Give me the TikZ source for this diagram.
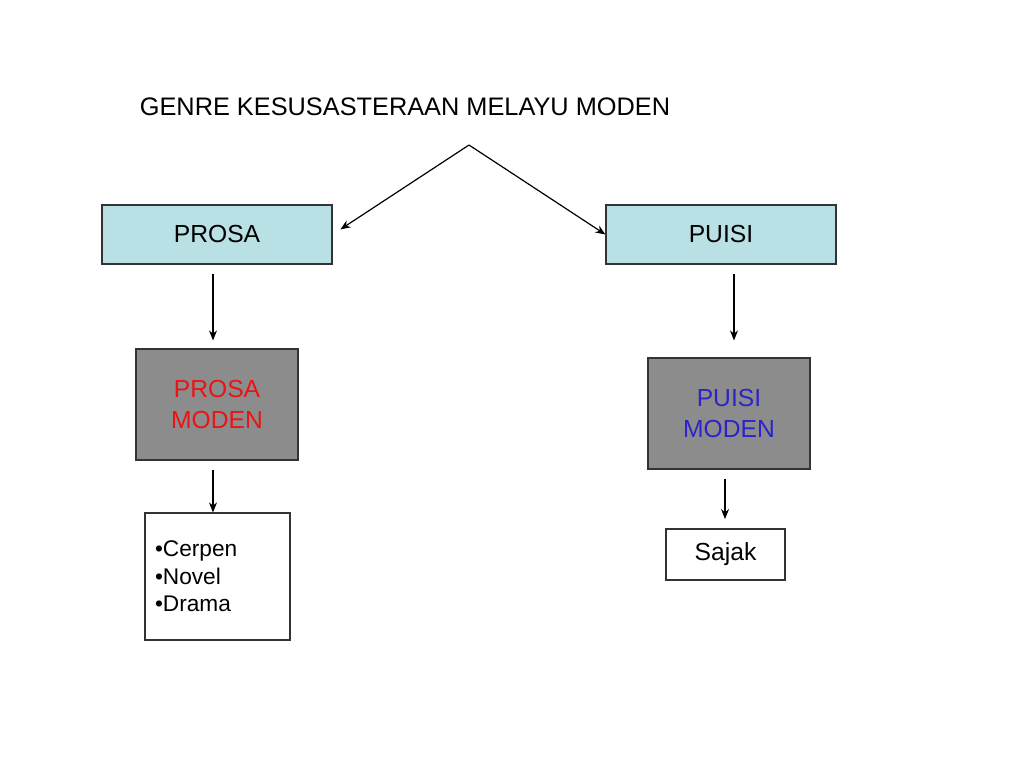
\documentclass[tikz,border=0pt]{standalone}
\usepackage{fontspec}
\setmainfont{Liberation Sans}
\usepackage{tikz}
\usetikzlibrary{arrows.meta}
\definecolor{genrecyan}{RGB}{185,224,228}
\definecolor{modengray}{RGB}{140,140,140}
\definecolor{modenred}{RGB}{235,20,20}
\definecolor{modenblue}{RGB}{45,35,200}
\tikzset{
  genrebox/.style={draw=black!80, line width=0.9pt, fill=genrecyan, minimum width=172.5pt, minimum height=44.25pt, inner sep=0pt, font=\fontsize{18.5}{22}\selectfont},
  modenbox/.style={draw=black!80, line width=0.9pt, fill=modengray, minimum width=121.5pt, minimum height=83.25pt, inner sep=0pt, align=center, font=\fontsize{18.5}{23}\selectfont},
  jenisbox/.style={draw=black!80, line width=0.9pt, fill=white, inner sep=0pt},
  arr/.style={-{Stealth[length=7.5pt,width=6pt]}, line width=0.9pt}
}

\begin{document}
\begin{tikzpicture}[x=0.75pt, y=-0.75pt]
\useasboundingbox (0,0) rectangle (1024,768);
\node[font=\fontsize{19}{23}\selectfont](tajuk) at (405,107) {GENRE KESUSASTERAAN MELAYU MODEN};
\coordinate (puncak) at (469,145);

\node[genrebox](prosa) at (217,234.5) {PROSA};
\node[genrebox](puisi) at (721,234.5) {PUISI};

\node[modenbox, text=modenred](pmoden) at (217,404.5) {PROSA\\MODEN};
\node[modenbox, text=modenblue](umoden) at (729,413.5) {PUISI\\MODEN};

\node[jenisbox, minimum height=95.25pt, text width=93.75pt, inner xsep=7.5pt, align=left, font=\fontsize{17}{20.5}\selectfont](jenis) at (217.5,576.5) {•Cerpen\\•Novel\\•Drama};
\node[jenisbox, minimum width=89.25pt, minimum height=38.25pt, font=\fontsize{18.5}{22}\selectfont](sajak) at (725.5,554.5) {Sajak};

% cabang dari tajuk
\path[arr, shorten >=7pt] (puncak) edge (prosa.east);
\path[arr] (puncak) edge (puisi.west);

% ke bawah
\draw[arr, shorten <=7pt, shorten >=6pt] ([xshift=-3pt]prosa.south) -- ([xshift=-3pt]prosa.south |- pmoden.north);
\draw[arr, shorten <=7pt] ([xshift=-3pt]pmoden.south) -- ([xshift=-3pt]pmoden.south |- jenis.north);
\draw[arr, shorten <=7pt, shorten >=12.75pt] ([xshift=9.75pt]puisi.south) -- ([xshift=9.75pt]puisi.south |- umoden.north);
\draw[arr, shorten <=7pt, shorten >=7pt] ([xshift=-3pt]umoden.south) -- ([xshift=-3pt]umoden.south |- sajak.north);
\end{tikzpicture}
\end{document}
